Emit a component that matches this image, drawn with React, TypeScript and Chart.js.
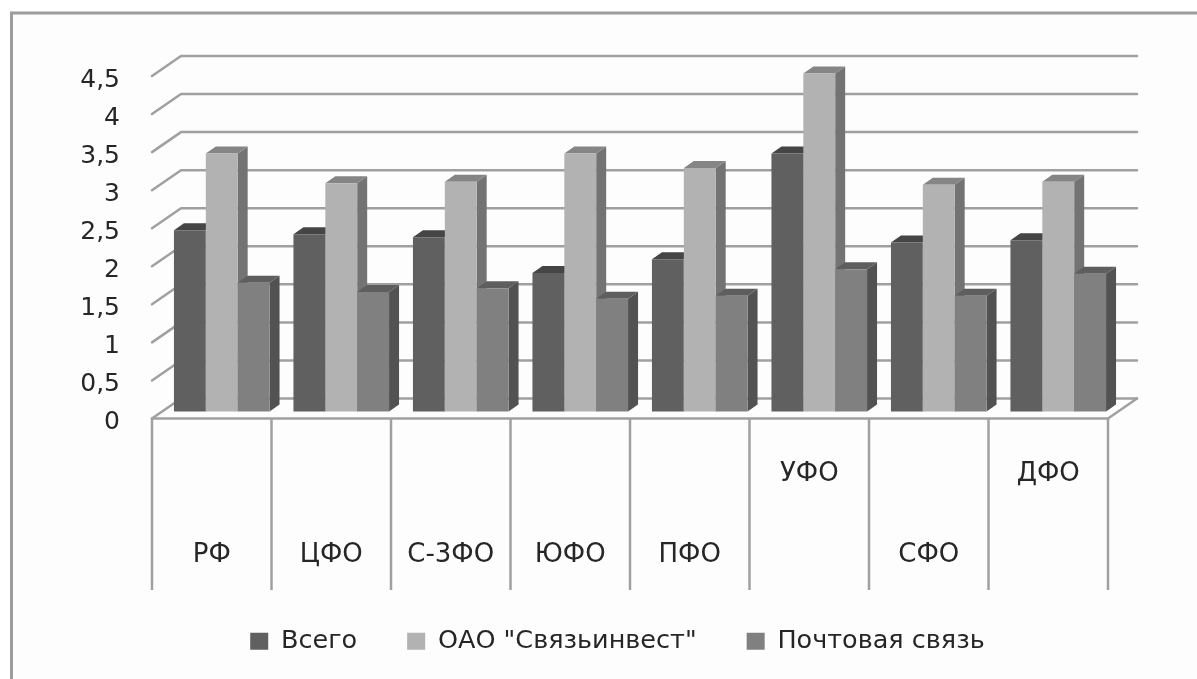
import React, { useEffect, useRef } from "react";
import { Chart, registerables } from "chart.js";

Chart.register(...registerables);

const categories = ["РФ", "ЦФО", "С-3ФО", "ЮФО", "ПФО", "УФО", "СФО", "ДФО"];
const labelRows = [1, 1, 1, 1, 1, 0, 1, 0];
const total = [2.38, 2.33, 2.29, 1.82, 2.0, 3.39, 2.22, 2.25];
const svyazinvest = [3.39, 3.0, 3.02, 3.39, 3.2, 4.44, 2.98, 3.02];
const post = [1.69, 1.57, 1.62, 1.48, 1.52, 1.87, 1.52, 1.81];

const FONT = "'DejaVu Sans', 'Noto Sans', sans-serif";
const TEXT = "#262626";
const GRID = "#a0a0a0";
const WALL = { x: 29, y: -20 };
const BAR_SHIFT = { x: 10, y: -7 };
const sideColors = ["#4a4a4a", "#737373", "#525252"];
const topColors = ["#454545", "#858585", "#5e5e5e"];

const depthPlugin = {
  id: "depth",
  beforeDraw(chart: any) {
    const { ctx, width, height } = chart;
    ctx.save();
    ctx.fillStyle = "#fdfdfd";
    ctx.fillRect(11, 12, width - 11, height - 12);
    ctx.strokeStyle = "#9c9c9c";
    ctx.lineWidth = 3;
    ctx.beginPath();
    ctx.moveTo(11.5, height);
    ctx.lineTo(11.5, 13);
    ctx.lineTo(width, 13);
    ctx.stroke();
    ctx.restore();
  },
  beforeDatasetsDraw(chart: any) {
    const { ctx, scales, chartArea } = chart;
    const yScale = scales.y;
    const xScale = scales.x;
    ctx.save();
    ctx.strokeStyle = GRID;
    ctx.lineWidth = 2.5;
    ctx.lineCap = "round";
    ctx.lineJoin = "round";
    yScale.ticks.forEach((t: any) => {
      const y = yScale.getPixelForValue(t.value);
      ctx.beginPath();
      ctx.moveTo(chartArea.left, y);
      ctx.lineTo(chartArea.left + WALL.x, y + WALL.y);
      ctx.lineTo(chartArea.right + WALL.x, y + WALL.y);
      ctx.stroke();
    });
    // floor and category dividers
    const y0 = yScale.getPixelForValue(0);
    ctx.beginPath();
    ctx.moveTo(chartArea.left, y0);
    ctx.lineTo(chartArea.right, y0);
    ctx.lineTo(chartArea.right + WALL.x, y0 + WALL.y);
    ctx.stroke();
    ctx.lineCap = "butt";
    const n = categories.length;
    for (let i = 0; i <= n; i++) {
      const x =
        i < n
          ? xScale.getPixelForValue(i) - (xScale.getPixelForValue(1) - xScale.getPixelForValue(0)) / 2
          : chartArea.right;
      ctx.beginPath();
      ctx.moveTo(x, y0);
      ctx.lineTo(x, 590);
      ctx.stroke();
    }
    ctx.restore();
  },
  beforeDatasetDraw() {
    return false;
  },
  afterDatasetsDraw(chart: any) {
    const { ctx } = chart;
    ctx.save();
    ctx.translate(BAR_SHIFT.x, BAR_SHIFT.y);
    const dx = BAR_SHIFT.x;
    const dy = BAR_SHIFT.y;
    chart.data.datasets.forEach((_: any, di: number) => {
      const meta = chart.getDatasetMeta(di);
      meta.data.forEach((bar: any) => {
        const l = bar.x - bar.width / 2;
        const r = bar.x + bar.width / 2;
        ctx.fillStyle = sideColors[di];
        ctx.beginPath();
        ctx.moveTo(r, bar.base);
        ctx.lineTo(r + dx, bar.base + dy);
        ctx.lineTo(r + dx, bar.y + dy);
        ctx.lineTo(r, bar.y);
        ctx.closePath();
        ctx.fill();
        ctx.fillStyle = topColors[di];
        ctx.beginPath();
        ctx.moveTo(l, bar.y);
        ctx.lineTo(l + dx, bar.y + dy);
        ctx.lineTo(r + dx, bar.y + dy);
        ctx.lineTo(r, bar.y);
        ctx.closePath();
        ctx.fill();
        bar.draw(ctx);
      });
    });
    ctx.restore();
  },
};

export default function App() {
  const ref = useRef<HTMLCanvasElement>(null);
  useEffect(() => {
    const chart = new Chart(ref.current as HTMLCanvasElement, {
      type: "bar",
      data: {
        labels: categories,
        datasets: [
          { label: "Всего", data: total, backgroundColor: "#606060" },
          { label: 'ОАО "Связьинвест"', data: svyazinvest, backgroundColor: "#b2b2b2" },
          { label: "Почтовая связь", data: post, backgroundColor: "#808080" },
        ],
      },
      options: {
        responsive: false,
        animation: false,
        categoryPercentage: 0.8,
        barPercentage: 1,
        layout: { padding: { left: 38, right: 0, top: 76, bottom: 15 } },
        scales: {
          x: {
            grid: { display: false },
            border: { display: false },
            afterFit(scale: any) {
              scale.height = 160;
            },
            ticks: {
              autoSkip: false,
              maxRotation: 0,
              minRotation: 0,
              padding: 7,
              color: TEXT,
              font: { family: FONT, size: 26, lineHeight: "81px" },
              callback: (_: any, i: number) =>
                labelRows[i] === 0 ? [categories[i], ""] : ["", categories[i]],
            },
          },
          y: {
            min: 0,
            max: 4.5,
            grid: { display: false },
            border: { display: false },
            afterFit(scale: any) {
              scale.width = 114;
            },
            ticks: {
              stepSize: 0.5,
              padding: 24,
              labelOffset: 4,
              color: TEXT,
              font: { family: FONT, size: 25 },
              callback: (v: any) => String(v).replace(".", ","),
            },
          },
          rightGap: {
            type: "linear",
            position: "right",
            grid: { display: false },
            border: { display: false },
            ticks: { display: false },
            afterFit(scale: any) {
              scale.width = 89;
            },
          },
        },
        plugins: {
          tooltip: { enabled: false },
          legend: {
            position: "bottom",
            labels: {
              boxWidth: 18,
              boxHeight: 17,
              padding: 50,
              color: TEXT,
              font: { family: FONT, size: 25.5 },
            },
          },
        },
      } as any,
      plugins: [depthPlugin],
    });
    return () => chart.destroy();
  }, []);
  return (
    <canvas
      ref={ref}
      width={1197}
      height={679}
      style={{ position: "absolute", left: 0, top: 0, width: 1197, height: 679, display: "block" }}
    />
  );
}
